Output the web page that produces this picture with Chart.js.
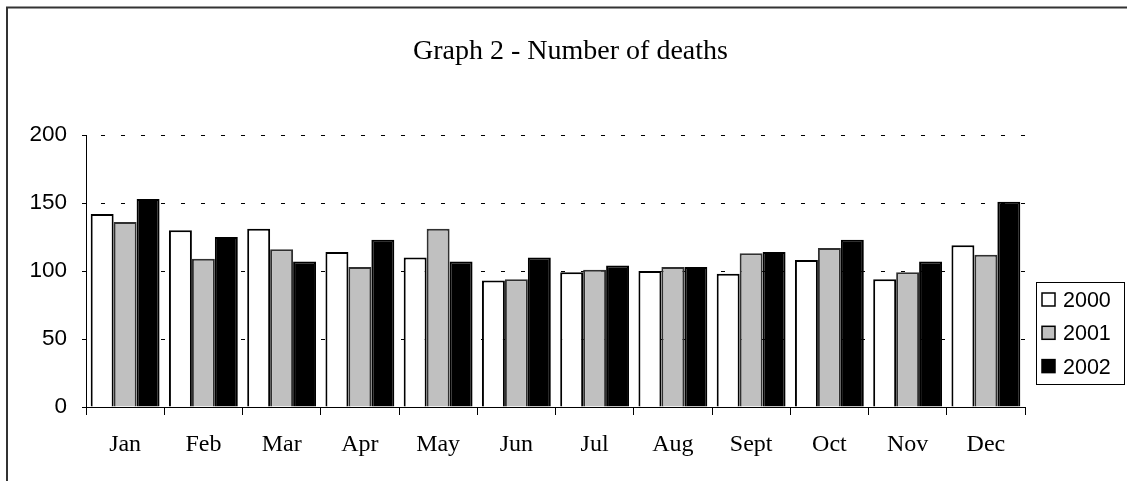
<!DOCTYPE html>
<html>
<head>
<meta charset="utf-8">
<script src="https://cdn.jsdelivr.net/npm/chart.js@4"></script>
<style>
  body { margin: 0; background: #fff; }
  canvas { display: block; }
</style>
</head>
<body>
<canvas id="deaths-chart" width="1127" height="481"></canvas>
<script>
const months = ["Jan", "Feb", "Mar", "Apr", "May", "Jun", "Jul", "Aug", "Sept", "Oct", "Nov", "Dec"];
const years = ["2000", "2001", "2002"];
const deaths2000 = [142, 130, 131, 114, 110, 93, 99, 100, 98, 108, 94, 119];
const deaths2001 = [136, 109, 116, 103, 131, 94, 101, 103, 113, 117, 99, 112];
const deaths2002 = [153, 125, 107, 123, 107, 110, 104, 103, 114, 123, 107, 151];
const yTicks = [0, 50, 100, 150, 200];

const fills = ["#ffffff", "#c0c0c0", "#000000"];   // white, grey, black
const edges = ["#000000", "#303030", "#000000"];

// frame round the whole picture (left and top edges only show)
const framePlugin = {
  id: "frame",
  beforeDraw(chart) {
    const ctx = chart.ctx;
    ctx.save();
    ctx.fillStyle = "#fff";
    ctx.fillRect(0, 0, chart.width, chart.height);
    ctx.strokeStyle = "#333";
    ctx.lineWidth = 2;
    ctx.beginPath();
    ctx.moveTo(7, chart.height);
    ctx.lineTo(7, 7.5);
    ctx.lineTo(chart.width, 7.5);
    ctx.stroke();
    ctx.restore();
  }
};

// boxed legend at the right, like the spreadsheet one
const boxLegend = {
  id: "boxLegend",
  afterDraw(chart) {
    const ctx = chart.ctx;
    const x0 = 1036.5, y0 = 282.5, w = 88, h = 102;
    ctx.save();
    ctx.strokeStyle = "#000";
    ctx.lineWidth = 1;
    ctx.strokeRect(x0, y0, w, h);
    ctx.font = "21.5px 'Liberation Sans', Arial, sans-serif";
    ctx.textBaseline = "middle";
    chart.data.datasets.forEach((ds, i) => {
      const cy = 300 + i * 33.3;
      ctx.fillStyle = ds.backgroundColor;
      ctx.fillRect(1042, cy - 7, 13, 13);
      ctx.strokeStyle = "#000";
      ctx.lineWidth = 1.5;
      ctx.strokeRect(1042, cy - 7, 13, 13);
      ctx.fillStyle = "#000";
      ctx.fillText(ds.label, 1063, cy + 1);
    });
    ctx.restore();
  }
};

const series = [deaths2000, deaths2001, deaths2002];

new Chart(document.getElementById("deaths-chart"), {
  type: "bar",
  data: {
    labels: months,
    datasets: years.map((y, i) => ({
      label: y,
      data: series[i],
      backgroundColor: fills[i],
      borderColor: edges[i],
      borderWidth: 2,
      barPercentage: 1.0,
      categoryPercentage: 0.88,
      yAxisID: "y"
    }))
  },
  options: {
    responsive: false,
    animation: false,
    layout: { padding: { left: 14, right: 0, top: 0, bottom: 0 } },
    plugins: {
      legend: { display: false },
      tooltip: { enabled: false },
      title: {
        display: true,
        text: "Graph 2 - Number of deaths",
        color: "#000",
        font: { family: "'Liberation Serif', 'Times New Roman', serif", size: 28, weight: "normal" },
        padding: { top: 35, bottom: 66.4 }
      }
    },
    scales: {
      x: {
        grid: { display: true, drawOnChartArea: false, drawTicks: true, tickLength: 8, color: "#000", offset: true },
        border: { display: true, color: "#000", width: 1 },
        ticks: {
          color: "#000",
          padding: 15,
          maxRotation: 0,
          font: { family: "'Liberation Serif', 'Times New Roman', serif", size: 24 }
        },
        afterFit(scale) { scale.height = 74; }
      },
      y: {
        min: 0,
        max: 200,
        afterBuildTicks(scale) { scale.ticks = yTicks.map(v => ({ value: v })); },
        grid: {
          color: "#000",
          lineWidth: 1,
          tickLength: 4,
          tickColor: "#000",
          tickBorderDash: []
        },
        border: { display: true, color: "#000", width: 1, dash: [4, 16], dashOffset: 6 },
        ticks: {
          color: "#000",
          padding: 15,
          font: { family: "'Liberation Sans', Arial, sans-serif", size: 22.5 }
        },
        afterFit(scale) { scale.width = 72; }
      },
      // empty strip on the right where the boxed legend sits
      spare: {
        position: "right",
        min: 0,
        max: 1,
        grid: { drawOnChartArea: false, drawTicks: false },
        border: { display: false },
        ticks: { display: false },
        afterFit(scale) { scale.width = 102; }
      }
    }
  },
  plugins: [framePlugin, boxLegend]
});
</script>
</body>
</html>
